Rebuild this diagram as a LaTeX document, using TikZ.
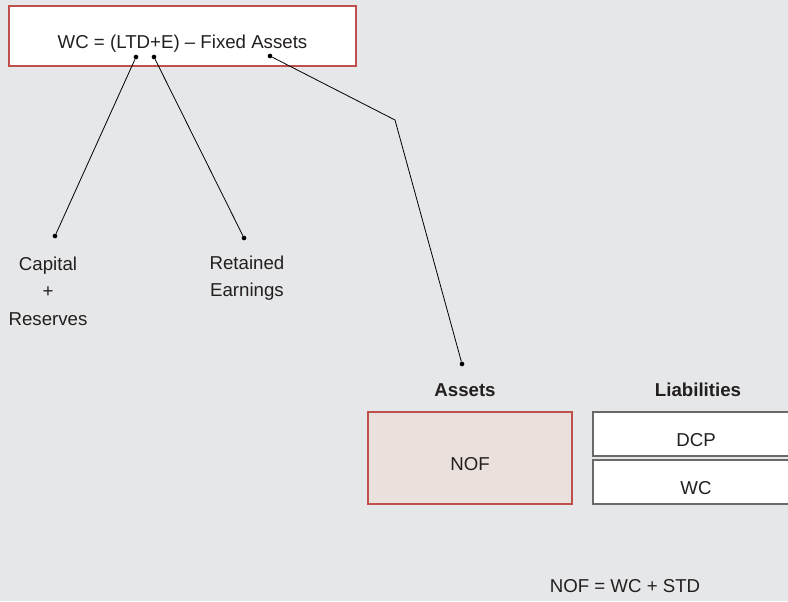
\documentclass[tikz,border=0pt]{standalone}
\usepackage{fontspec}
\setmainfont{Liberation Sans}
\usetikzlibrary{positioning}
\definecolor{wcbg}{RGB}{230, 231, 232}
\definecolor{wcred}{RGB}{192, 80, 77}
\definecolor{wcpink}{RGB}{234, 224, 220}
\definecolor{wcgray}{RGB}{105, 105, 105}
\definecolor{wctext}{RGB}{35, 31, 32}
\tikzset{
    boxtext/.style={font=\fontsize{14}{16}\selectfont, text=wctext, text height=19pt, text depth=0pt, line width=0.8pt},
    formbox/.style={boxtext, draw=wcred, fill=white, minimum width=260.25pt, minimum height=45pt},
    assetbox/.style={boxtext, draw=wcred, fill=wcpink, minimum width=153pt, minimum height=69pt},
    liabbox/.style={boxtext, draw=wcgray, fill=white, minimum width=154.5pt, minimum height=33pt},
    termlabel/.style={align=center, font=\fontsize{14}{20.5}\selectfont, text=wctext},
    headlabel/.style={font=\fontsize{14}{16}\selectfont\bfseries, text=wctext},
    pin/.style={circle, fill=black, inner sep=0pt, minimum size=3.5pt},
    link/.style={draw=black, line width=0.6pt}
}

\begin{document}
\begin{tikzpicture}[x=0.75pt, y=-0.75pt]
    \fill[wcbg] (0,0) rectangle (788,601);
    \useasboundingbox (0,0) rectangle (788,601);

    \node[formbox] (wc) at (182.5,36) {WC = (LTD+E) -- Fixed Assets};
    \node[pin] (ltd) at (136,57) {};
    \node[pin] (eq) at (154,57) {};
    \node[pin] (fa) at (270,56) {};

    \node[pin] (capin) at (55,236) {};
    \node[pin] (repin) at (244,238) {};
    \coordinate (bend) at (395,120);
    \node[pin] (nofpin) at (462,364) {};

    \node[termlabel] (capital) at (48,291) {Capital\\+\\Reserves};
    \node[termlabel] (retained) at (247,278) {Retained\\Earnings};

    % balance sheet
    \node[headlabel] (assets) at (465,390) {Assets};
    \node[headlabel] (liab) at (698,390) {Liabilities};
    \node[assetbox] (nof) at (470,458) {NOF};
    \node[liabbox] (dcp) at (696,434) {DCP};
    \node[liabbox] (wcl) at (696,482) {WC};
    \node[termlabel] (rule) at (625,586) {NOF = WC + STD};

    \draw[link] (ltd) -- (capin);
    \draw[link] (eq) -- (repin);
    \draw[link] (fa) -- (bend) -- (nofpin);
\end{tikzpicture}
\end{document}
